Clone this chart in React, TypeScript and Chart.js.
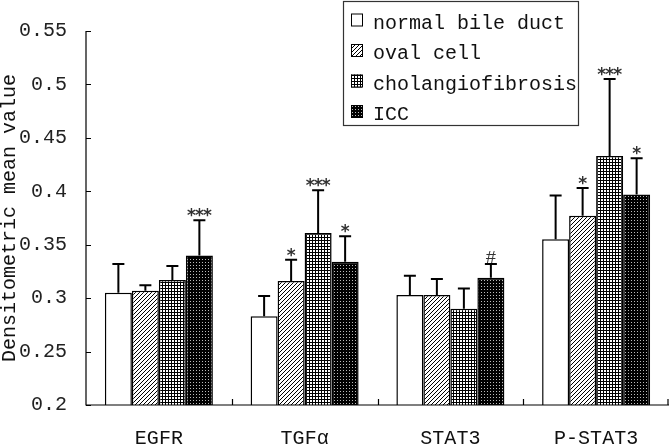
import React, { useEffect, useRef } from 'react';
import { Chart, registerables } from 'chart.js';

Chart.register(...registerables);

const categories = ['EGFR', 'TGFα', 'STAT3', 'P-STAT3'];
const seriesNames = ['normal bile duct', 'oval cell', 'cholangiofibrosis', 'ICC'];

const normalValues = [0.305, 0.283, 0.303, 0.355];
const normalErrors = [0.027, 0.019, 0.018, 0.041];
const ovalValues = [0.307, 0.316, 0.303, 0.377];
const ovalErrors = [0.005, 0.020, 0.015, 0.026];
const fibrosisValues = [0.317, 0.361, 0.290, 0.433];
const fibrosisErrors = [0.013, 0.040, 0.019, 0.072];
const iccValues = [0.340, 0.334, 0.319, 0.397];
const iccErrors = [0.033, 0.024, 0.013, 0.034];

const normalMarks = ['', '', '', ''];
const ovalMarks = ['', '*', '', '*'];
const fibrosisMarks = ['', '***', '', '***'];
const iccMarks = ['***', '*', '#', '*'];

const yTickValues = [0.2, 0.25, 0.3, 0.35, 0.4, 0.45, 0.5, 0.55];
const yTickLabels = ['0.2', '0.25', '0.3', '0.35', '0.4', '0.45', '0.5', '0.55'];

const FONT = "'Liberation Mono', monospace";

function makePattern(kind: string): CanvasPattern | string {
  if (kind === 'white') return '#ffffff';
  const c = document.createElement('canvas');
  const ctx = c.getContext('2d')!;
  if (kind === 'hatch') {
    c.width = 4; c.height = 4;
    ctx.fillStyle = '#ffffff';
    ctx.fillRect(0, 0, 4, 4);
    ctx.fillStyle = '#000000';
    for (let i = 0; i < 4; i++) ctx.fillRect(i, 3 - i, 1, 1);
  } else if (kind === 'grid') {
    c.width = 3; c.height = 3;
    ctx.fillStyle = '#ffffff';
    ctx.fillRect(0, 0, 3, 3);
    ctx.fillStyle = '#000000';
    ctx.fillRect(0, 0, 3, 1);
    ctx.fillRect(0, 0, 1, 3);
  } else {
    c.width = 3; c.height = 3;
    ctx.fillStyle = '#000000';
    ctx.fillRect(0, 0, 3, 3);
    ctx.fillStyle = '#bbbbbb';
    ctx.fillRect(1, 1, 1, 1);
  }
  const p = ctx.createPattern(c, 'repeat');
  return p || '#888888';
}

export default function App() {
  const ref = useRef<HTMLCanvasElement | null>(null);

  useEffect(() => {
    if (!ref.current) return;
    const fills = [makePattern('white'), makePattern('hatch'), makePattern('grid'), makePattern('dots')];
    const values = [normalValues, ovalValues, fibrosisValues, iccValues];
    const errors = [normalErrors, ovalErrors, fibrosisErrors, iccErrors];
    const marks = [normalMarks, ovalMarks, fibrosisMarks, iccMarks];

    const decor = {
      id: 'decor',
      afterDatasetsDraw(chart: any) {
        const ctx = chart.ctx;
        const y = chart.scales.y;
        ctx.save();
        ctx.strokeStyle = '#000';
        ctx.lineWidth = 2;
        for (let d = 0; d < 4; d++) {
          const meta = chart.getDatasetMeta(d);
          meta.data.forEach((el: any, i: number) => {
            const capY = y.getPixelForValue(values[d][i] + errors[d][i]);
            ctx.beginPath();
            ctx.moveTo(el.x, el.y);
            ctx.lineTo(el.x, capY);
            ctx.moveTo(el.x - 6, capY);
            ctx.lineTo(el.x + 6, capY);
            ctx.stroke();
            const m = marks[d][i];
            if (m) {
              ctx.fillStyle = '#333';
              ctx.textAlign = 'center';
              ctx.textBaseline = 'alphabetic';
              if (m === '#') {
                ctx.font = `18px ${FONT}`;
                ctx.fillText('#', el.x, capY - 1);
              } else {
                ctx.font = `bold 17px 'DejaVu Sans', sans-serif`;
                const n = m.length;
                for (let k = 0; k < n; k++) {
                  ctx.fillText('*', el.x + (k - (n - 1) / 2) * 8, capY + 1);
                }
              }
            }
          });
        }
        ctx.restore();
      },
      afterDraw(chart: any) {
        const ctx = chart.ctx;
        const a = chart.chartArea;
        const y = chart.scales.y;
        ctx.save();
        ctx.strokeStyle = '#000';
        ctx.lineWidth = 1.2;
        ctx.beginPath();
        ctx.moveTo(a.left, a.top);
        ctx.lineTo(a.left, a.bottom);
        ctx.lineTo(a.right, a.bottom);
        yTickValues.forEach((v) => {
          const py = Math.round(y.getPixelForValue(v)) + 0.5;
          ctx.moveTo(a.left, py);
          ctx.lineTo(a.left + 5, py);
        });
        const w = (a.right - a.left) / categories.length;
        for (let i = 1; i <= categories.length; i++) {
          const px = Math.min(Math.round(a.left + i * w) + 0.5, a.right - 1);
          ctx.moveTo(px, a.bottom);
          ctx.lineTo(px, a.bottom - 6);
        }
        ctx.stroke();

        // legend
        ctx.lineWidth = 1.2;
        ctx.strokeStyle = '#333';
        ctx.strokeRect(343.5, 1.5, 235, 124);
        const baselines = [28.5, 59, 89.5, 120];
        ctx.font = `20px ${FONT}`;
        ctx.textAlign = 'left';
        ctx.textBaseline = 'alphabetic';
        for (let d = 0; d < 4; d++) {
          const b = baselines[d];
          ctx.fillStyle = fills[d] as any;
          ctx.fillRect(351, b - 15, 11, 13);
          ctx.strokeStyle = '#000';
          ctx.lineWidth = 1;
          ctx.strokeRect(351.5, b - 14.5, 11, 12);
          ctx.fillStyle = '#111';
          ctx.fillText(seriesNames[d], 373, b);
        }
        ctx.restore();
      },
    };

    const chart = new Chart(ref.current, {
      type: 'bar',
      data: {
        labels: categories,
        datasets: values.map((vals, d) => ({
          label: seriesNames[d],
          data: vals,
          backgroundColor: fills[d] as any,
          borderColor: '#000',
          borderWidth: 1.5,
          categoryPercentage: 0.741,
          barPercentage: 1,
        })),
      },
      options: {
        responsive: false,
        animation: false,
        events: [],
        layout: { padding: { top: 31, right: 0, left: 0, bottom: 0 } },
        plugins: { legend: { display: false }, tooltip: { enabled: false } },
        scales: {
          x: {
            grid: { display: false, drawTicks: false },
            border: { display: false },
            ticks: { font: { family: FONT, size: 20 }, color: '#111', padding: 22, maxRotation: 0 },
            afterFit: (s: any) => { s.height = 43; },
          },
          y: {
            min: 0.2,
            max: 0.55,
            grid: { display: false, drawTicks: false },
            border: { display: false },
            afterBuildTicks: (s: any) => { s.ticks = yTickValues.map((v) => ({ value: v })); },
            ticks: {
              font: { family: FONT, size: 20 },
              color: '#222',
              padding: 19,
              callback: (v: any) => yTickLabels[Math.round((Number(v) - 0.2) / 0.05)] ?? '',
            },
            title: {
              display: true,
              text: 'Densitometric mean value',
              font: { family: FONT, size: 20, lineHeight: 1.0 },
              color: '#111',
              padding: 0,
            },
            afterFit: (s: any) => { s.width = 86; },
          },
        },
      },
      plugins: [decor],
    });
    return () => chart.destroy();
  }, []);

  return (
    <div style={{ position: 'absolute', left: 0, top: 0, width: 669, height: 448, background: '#fff' }}>
      <canvas ref={ref} width={669} height={448} style={{ display: 'block' }} />
    </div>
  );
}
